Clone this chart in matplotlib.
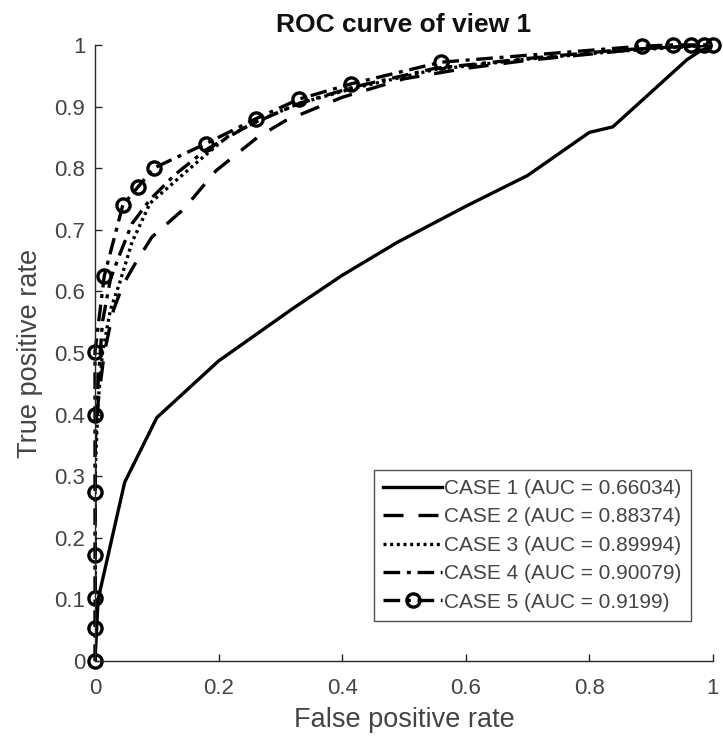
import matplotlib
matplotlib.use("Agg")
import matplotlib.pyplot as plt

plt.rcParams['font.family'] = ['Liberation Sans', 'DejaVu Sans']

# ROC points for each case
case1_fpr = [0, 0.005, 0.048, 0.10, 0.20, 0.32, 0.40, 0.49, 0.60, 0.70, 0.80, 0.838, 0.958, 0.979, 1.0]
case1_tpr = [0, 0.10, 0.29, 0.395, 0.487, 0.572, 0.626, 0.68, 0.738, 0.788, 0.858, 0.867, 0.976, 0.99, 1.0]

case2_fpr = [0, 0, 0.005, 0.015, 0.03, 0.045, 0.065, 0.092, 0.144, 0.196, 0.263, 0.308, 0.40, 0.50, 0.60, 0.70, 0.80, 0.90, 1.0]
case2_tpr = [0, 0.35, 0.42, 0.50, 0.57, 0.61, 0.645, 0.688, 0.734, 0.796, 0.85, 0.877, 0.915, 0.945, 0.962, 0.975, 0.985, 0.995, 1.0]

case3_fpr = [0, 0, 0.005, 0.012, 0.025, 0.04, 0.06, 0.089, 0.138, 0.175, 0.213, 0.26, 0.33, 0.42, 0.55, 0.70, 0.85, 1.0]
case3_tpr = [0, 0.30, 0.42, 0.50, 0.57, 0.614, 0.68, 0.743, 0.786, 0.818, 0.85, 0.875, 0.905, 0.93, 0.96, 0.977, 0.99, 1.0]

case4_fpr = [0, 0, 0.005, 0.012, 0.025, 0.04, 0.06, 0.09, 0.13, 0.18, 0.25, 0.33, 0.42, 0.55, 0.70, 0.85, 1.0]
case4_tpr = [0, 0.35, 0.45, 0.55, 0.62, 0.66, 0.71, 0.75, 0.79, 0.83, 0.87, 0.905, 0.932, 0.962, 0.978, 0.992, 1.0]

case5_fpr = [0, 0, 0, 0, 0, 0, 0, 0.015, 0.045, 0.07, 0.095, 0.18, 0.26, 0.33, 0.415, 0.56, 0.885, 0.935, 0.965, 0.985, 1.0]
case5_tpr = [0, 0.054, 0.102, 0.172, 0.274, 0.40, 0.502, 0.625, 0.74, 0.77, 0.80, 0.84, 0.88, 0.912, 0.937, 0.972, 0.998, 1.0, 1.0, 1.0, 1.0]

labels = ['CASE 1 (AUC = 0.66034)', 'CASE 2 (AUC = 0.88374)', 'CASE 3 (AUC = 0.89994)',
          'CASE 4 (AUC = 0.90079)', 'CASE 5 (AUC = 0.9199)']

fig = plt.figure(figsize=(7.23, 7.44), dpi=100)
ax = fig.add_axes([0.1314, 0.1116, 0.8546, 0.828])

lw = 2.4
dashdot = (0, (5, 2, 1.2, 2))
ax.plot(case1_fpr, case1_tpr, color='black', lw=lw, ls='-', label=labels[0])
ax.plot(case2_fpr, case2_tpr, color='black', lw=lw, ls=(0, (6, 4.5)), label=labels[1])
ax.plot(case3_fpr, case3_tpr, color='black', lw=lw, ls=(0, (0.9, 1.1)), label=labels[2])
ax.plot(case4_fpr, case4_tpr, color='black', lw=lw, ls=dashdot, label=labels[3])
ax.plot(case5_fpr, case5_tpr, color='black', lw=lw, ls=dashdot, marker='o',
        markersize=9.5, markerfacecolor='none', markeredgewidth=2.4, clip_on=False,
        label=labels[4])

ax.set_xlim(0, 1)
ax.set_ylim(0, 1)
ax.set_xticks([0, 0.2, 0.4, 0.6, 0.8, 1])
ax.set_xticklabels(['0', '0.2', '0.4', '0.6', '0.8', '1'])
ax.set_yticks([i / 10 for i in range(11)])
ax.set_yticklabels(['0', '0.1', '0.2', '0.3', '0.4', '0.5', '0.6', '0.7', '0.8', '0.9', '1'])

for s in ['top', 'right']:
    ax.spines[s].set_visible(False)
for s in ['left', 'bottom']:
    ax.spines[s].set_color('#262626')
    ax.spines[s].set_linewidth(1.0)
ax.tick_params(direction='in', length=5, width=1, colors='#262626', labelsize=16)
ax.tick_params(axis='x', pad=12)
ax.tick_params(axis='y', pad=7)
for lab in ax.get_xticklabels() + ax.get_yticklabels():
    lab.set_color('#444444')

ax.set_xlabel('False positive rate', fontsize=19.5, color='#444444', labelpad=6)
ax.set_ylabel('True positive rate', fontsize=19.5, color='#444444', labelpad=8)
ax.set_title('ROC curve of view 1', fontsize=19, fontweight='bold', color='#111111', pad=9)

leg = ax.legend(loc='lower right', bbox_to_anchor=(0.964, 0.065), fontsize=15,
                frameon=True, fancybox=False, edgecolor='#262626', handlelength=2.8,
                handletextpad=0.1, borderpad=0.45, labelspacing=0.45, borderaxespad=0)
leg.get_frame().set_linewidth(1.0)
for t in leg.get_texts():
    t.set_color('#444444')

fig.savefig('out.png', dpi=100)
